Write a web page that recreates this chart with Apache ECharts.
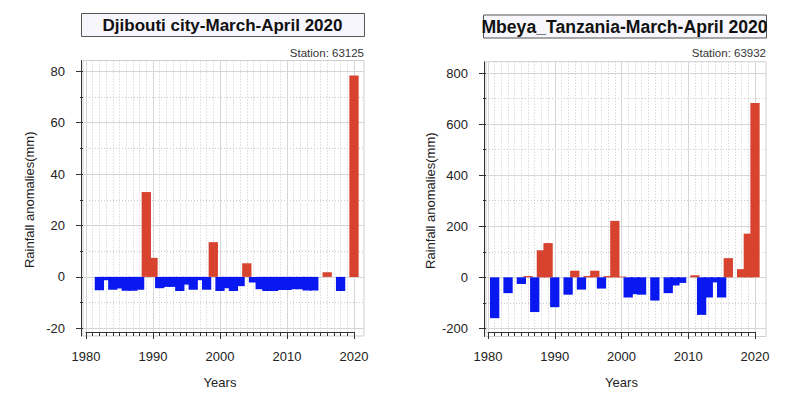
<!DOCTYPE html>
<html><head><meta charset="utf-8">
<script src="https://cdn.jsdelivr.net/npm/echarts@6/dist/echarts.min.js"></script>
<style>html,body{margin:0;padding:0;background:#fff}#c{width:800px;height:394px}</style>
</head><body><div id="c"></div>
<script>
// ---------- data ----------
const years = [1980,1981,1982,1983,1984,1985,1986,1987,1988,1989,1990,1991,1992,1993,1994,1995,1996,1997,1998,1999,2000,2001,2002,2003,2004,2005,2006,2007,2008,2009,2010,2011,2012,2013,2014,2015,2016,2017,2018,2019,2020];
const djiboutiAnomaly = [0,0,-5.2,-1.3,-5.0,-4.5,-5.4,-5.4,-5.0,33.0,7.4,-4.4,-3.9,-3.9,-5.5,-3.0,-5.0,-1.3,-5.0,13.5,-5.5,-4.4,-5.5,-3.6,5.3,-2.2,-4.8,-5.5,-5.5,-5.1,-5.1,-4.8,-4.8,-5.3,-5.3,0,1.8,0,-5.5,0,78.3];
const mbeyaAnomaly = [0,-160,0,-62,0,-26,5,-136,106,134,-117,0,-68,26,-48,5,26,-44,5,221,3,-79,-66,-68,0,-91,0,-62,-32,-22,0,8,-147,-79,-20,-79,75,0,32,171,683];
const xTickYears = [1980,1990,2000,2010,2020];
const djiboutiYTicks = [-20,0,20,40,60,80];
const mbeyaYTicks = [-200,0,200,400,600,800];
const titles = ['Djibouti city-March-April 2020','Mbeya_Tanzania-March-April 2020'];
const stations = ['Station: 63125','Station: 63932'];
const xName = 'Years';
const yName = 'Rainfall anomalies(mm)';

// ---------- style / layout ----------
const FONT = 'Liberation Sans, Arial, sans-serif';
const RED = '#d8432f', BLUE = '#0a18f0';
const panels = [
  {vals: djiboutiAnomaly, yTicks: djiboutiYTicks, title: titles[0], station: stations[0],
   frame:{l:83,t:60.5,r:364,b:336}, x0px:86, x1px:354, yTopPx:71.2, yBotPx:328.3,
   titleBox:{l:81,t:13,r:364,b:36}, titleFont:17, stationY:52.5, yNameGap:45},
  {vals: mbeyaAnomaly, yTicks: mbeyaYTicks, title: titles[1], station: stations[1],
   frame:{l:486,t:61.7,r:766,b:336.5}, x0px:488, x1px:755, yTopPx:73, yBotPx:328.4,
   titleBox:{l:483,t:14.5,r:766,b:37.5}, titleFont:17.6, stationY:53, yNameGap:47}
];

const grid = [], xAxis = [], yAxis = [], series = [], graphic = [];
panels.forEach((p, k) => {
  const f = p.frame;
  const xLo = xTickYears[0], xHi = xTickYears[xTickYears.length-1];
  const yLo = p.yTicks[0], yHi = p.yTicks[p.yTicks.length-1];
  const xPerPx = (xHi - xLo) / (p.x1px - p.x0px);
  const yPerPx = (yHi - yLo) / (p.yBotPx - p.yTopPx);
  const dxMin = xLo - (p.x0px - f.l) * xPerPx, dxMax = xHi + (f.r - p.x1px) * xPerPx;
  const dyMax = yHi + (p.yTopPx - f.t) * yPerPx, dyMin = yLo - (f.b - p.yBotPx) * yPerPx;
  const base = grid.length;
  grid.push({left: f.l, top: f.t, width: f.r - f.l, height: f.b - f.t, show: true, borderColor: '#cfcfcf', borderWidth: 1, backgroundColor: 'transparent'});
  grid.push({left: p.x0px, top: f.t, width: p.x1px - p.x0px, height: f.b - f.t});
  grid.push({left: f.l, top: p.yTopPx, width: f.r - f.l, height: p.yBotPx - p.yTopPx});

  xAxis.push({gridIndex: base, type: 'value', min: dxMin, max: dxMax, show: false});
  yAxis.push({gridIndex: base, type: 'value', min: dyMin, max: dyMax, position: 'left', offset: 2,
    axisLine: {show: true, lineStyle: {color: '#333', width: 1}}, axisTick: {show: false}, axisLabel: {show: false}, splitLine: {show: false}});

  xAxis.push({gridIndex: base+1, type: 'value', min: xLo, max: xHi, interval: 10, position: 'bottom', offset: 2,
    axisLine: {show: true, lineStyle: {color: '#333', width: 1}},
    axisTick: {show: true, length: 7, lineStyle: {color: '#333'}},
    minorTick: {show: true, splitNumber: 10, length: 4, lineStyle: {color: '#333'}},
    axisLabel: {margin: 16, fontSize: 13, color: '#222', fontFamily: FONT, formatter: v => String(v)},
    splitLine: {show: true, lineStyle: {color: '#d6d6d6', width: 1}},
    minorSplitLine: {show: true, lineStyle: {color: '#c8c8c8', width: 1, type: [1, 2]}},
    name: xName, nameLocation: 'middle', nameGap: 42, nameTextStyle: {fontSize: 13, color: '#222', fontFamily: FONT}});
  yAxis.push({gridIndex: base+1, type: 'value', show: false});

  xAxis.push({gridIndex: base+2, type: 'value', show: false});
  yAxis.push({gridIndex: base+2, type: 'value', min: yLo, max: yHi, interval: p.yTicks[1]-p.yTicks[0], position: 'left', offset: 2,
    axisLine: {show: false},
    axisTick: {show: true, length: 7, lineStyle: {color: '#333'}},
    minorTick: {show: true, splitNumber: 2, length: 3, lineStyle: {color: '#333'}},
    axisLabel: {margin: 16, fontSize: 13, color: '#222', fontFamily: FONT, formatter: v => String(v)},
    splitLine: {show: true, lineStyle: {color: '#d6d6d6', width: 1}},
    minorSplitLine: {show: true, lineStyle: {color: '#c8c8c8', width: 1, type: [1, 2]}},
    name: yName, nameLocation: 'middle', nameGap: p.yNameGap, nameTextStyle: {fontSize: 13, color: '#222', fontFamily: FONT}});

  const data = years.map((y, i) => ({y, v: p.vals[i]}))
    .filter(d => d.v !== null && d.v !== 0)
    .sort((a, b) => Math.abs(a.v) - Math.abs(b.v))
    .map(d => ({value: [d.y, d.v], itemStyle: {color: d.v > 0 ? RED : BLUE}}));
  series.push({type: 'bar', xAxisIndex: base, yAxisIndex: base, barWidth: 9.3, data, animation: false});

  const tb = p.titleBox;
  graphic.push({type: 'rect', shape: {x: tb.l + 0.5, y: tb.t + 0.5, width: tb.r - tb.l, height: tb.b - tb.t},
    style: {fill: '#f6f6fc', stroke: '#555', lineWidth: 1}});
  graphic.push({type: 'text', x: (tb.l + tb.r) / 2, y: (tb.t + tb.b) / 2 + 1,
    style: {text: p.title, fill: '#111', font: 'bold ' + p.titleFont + 'px ' + FONT, align: 'center', verticalAlign: 'middle', textAlign: 'center', textVerticalAlign: 'middle'}});
  graphic.push({type: 'text', x: f.r, y: p.stationY,
    style: {text: p.station, fill: '#333', font: '11.5px ' + FONT, align: 'right', verticalAlign: 'middle', textAlign: 'right', textVerticalAlign: 'middle'}});
});

const chart = echarts.init(document.getElementById('c'), null, {renderer: 'svg'});
chart.setOption({animation: false, backgroundColor: '#fff', grid, xAxis, yAxis, series, graphic});
</script></body></html>
